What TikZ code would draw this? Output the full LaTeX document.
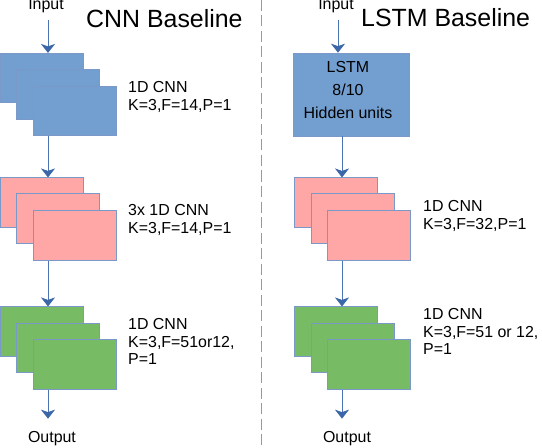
\documentclass[tikz,border=0pt]{standalone}
\usepackage{fontspec}
\setmainfont{Liberation Sans}
\usetikzlibrary{arrows.meta}
\definecolor{boxblue}{HTML}{729FCF}
\definecolor{boxred}{HTML}{FFA6A6}
\definecolor{boxgreen}{HTML}{77BC65}
\definecolor{edgeblue}{HTML}{7A99C9}
\definecolor{linkblue}{HTML}{4A74B4}
\definecolor{tipblue}{HTML}{3B67A8}
\definecolor{sepblue}{HTML}{7F9CCB}

\begin{document}
\begin{tikzpicture}[x=1bp,y=-1bp]
\tikzstyle{every node}+=[inner sep=0pt]
\tikzstyle{layer}=[draw=edgeblue,line width=0.6bp,minimum width=83bp,minimum height=49.5bp]
\tikzstyle{small}=[font=\fontsize{16}{17.5}\selectfont,align=left]
\tikzstyle{title}=[font=\fontsize{25}{30}\selectfont]
\tikzstyle{conn}=[linkblue,line width=0.8bp,-{Stealth[length=9bp,width=14bp,inset=2.5bp,color=tipblue]}]
\useasboundingbox (0,0) rectangle (542,448);
\draw [sepblue,line width=1bp,dash pattern=on 11bp off 4.5bp] (261,0) -- (261,448);
\node [title,anchor=base west] (cnntitle) at (86,28) {CNN Baseline};
\node [title,anchor=base west] (lstmtitle) at (361,27) {LSTM Baseline};
\node [small,anchor=base] (lin) at (46,10) {Input};
\node [small,anchor=base] (rin) at (336,10) {Input};
\node [small,anchor=base] (lout) at (52,442) {Output};
\node [small,anchor=base] (rout) at (347,442) {Output};
\coordinate (lx) at (48,0);
\coordinate (rxin) at (338,0);
\coordinate (rx) at (342,0);
% CNN baseline
\node [layer,fill=boxblue] (l1a) at (41.5,78) {};
\node [layer,fill=boxblue] (l1b) at (58,94.5) {};
\node [layer,fill=boxblue] (l1c) at (74.5,111) {};
\node [small,anchor=north west] (l1lbl) at (128,81.5) {1D CNN\\K=3,F=14,P=1};
\node [layer,fill=boxred] (l2a) at (41.5,202.5) {};
\node [layer,fill=boxred] (l2b) at (58,218.5) {};
\node [layer,fill=boxred] (l2c) at (74.5,235.5) {};
\node [small,anchor=north west] (l2lbl) at (128,204.5) {3x 1D CNN\\K=3,F=14,P=1};
\node [layer,fill=boxgreen] (l3a) at (41.5,331.5) {};
\node [layer,fill=boxgreen] (l3b) at (58,348) {};
\node [layer,fill=boxgreen] (l3c) at (74.5,364.5) {};
\node [small,anchor=north west] (l3lbl) at (128,318.5) {1D CNN\\K=3,F=51or12,\\P=1};
\draw [conn,shorten <=6.5bp] (lx |- lin.south) -- (lx |- l1a.north);
\draw [conn] (lx |- l1c.south) -- (lx |- l2a.north);
\draw [conn] (lx |- l2c.south) -- (lx |- l3a.north);
\draw [conn,shorten >=12bp] (lx |- l3c.south) -- (lx |- lout.north);
% LSTM baseline
\node [draw=edgeblue,line width=0.6bp,fill=boxblue,minimum width=116bp,minimum height=83bp] (lstm) at (351,94.5) {};
\node [font=\fontsize{16}{23}\selectfont,align=center] (lstmtxt) at ([shift={(-3bp,4.25bp)}]lstm.center) {LSTM\\8/10\\Hidden units};
\node [layer,fill=boxred] (r2a) at (336,202.5) {};
\node [layer,fill=boxred] (r2b) at (352.5,218.5) {};
\node [layer,fill=boxred] (r2c) at (369,235.5) {};
\node [small,anchor=north west] (r2lbl) at (423,200.5) {1D CNN\\K=3,F=32,P=1};
\node [layer,fill=boxgreen] (r3a) at (336,331.5) {};
\node [layer,fill=boxgreen] (r3b) at (352.5,348) {};
\node [layer,fill=boxgreen] (r3c) at (369,364.5) {};
\node [small,anchor=north west] (r3lbl) at (423,308.5) {1D CNN\\K=3,F=51 or 12,\\P=1};
\draw [conn,shorten <=6.5bp] (rxin |- rin.south) -- (rxin |- lstm.north);
\draw [conn] (rx |- lstm.south) -- (rx |- r2a.north);
\draw [conn] (rx |- r2c.south) -- (rx |- r3a.north);
\draw [conn,shorten >=12bp] (rx |- r3c.south) -- (rx |- rout.north);
\end{tikzpicture}
\end{document}
